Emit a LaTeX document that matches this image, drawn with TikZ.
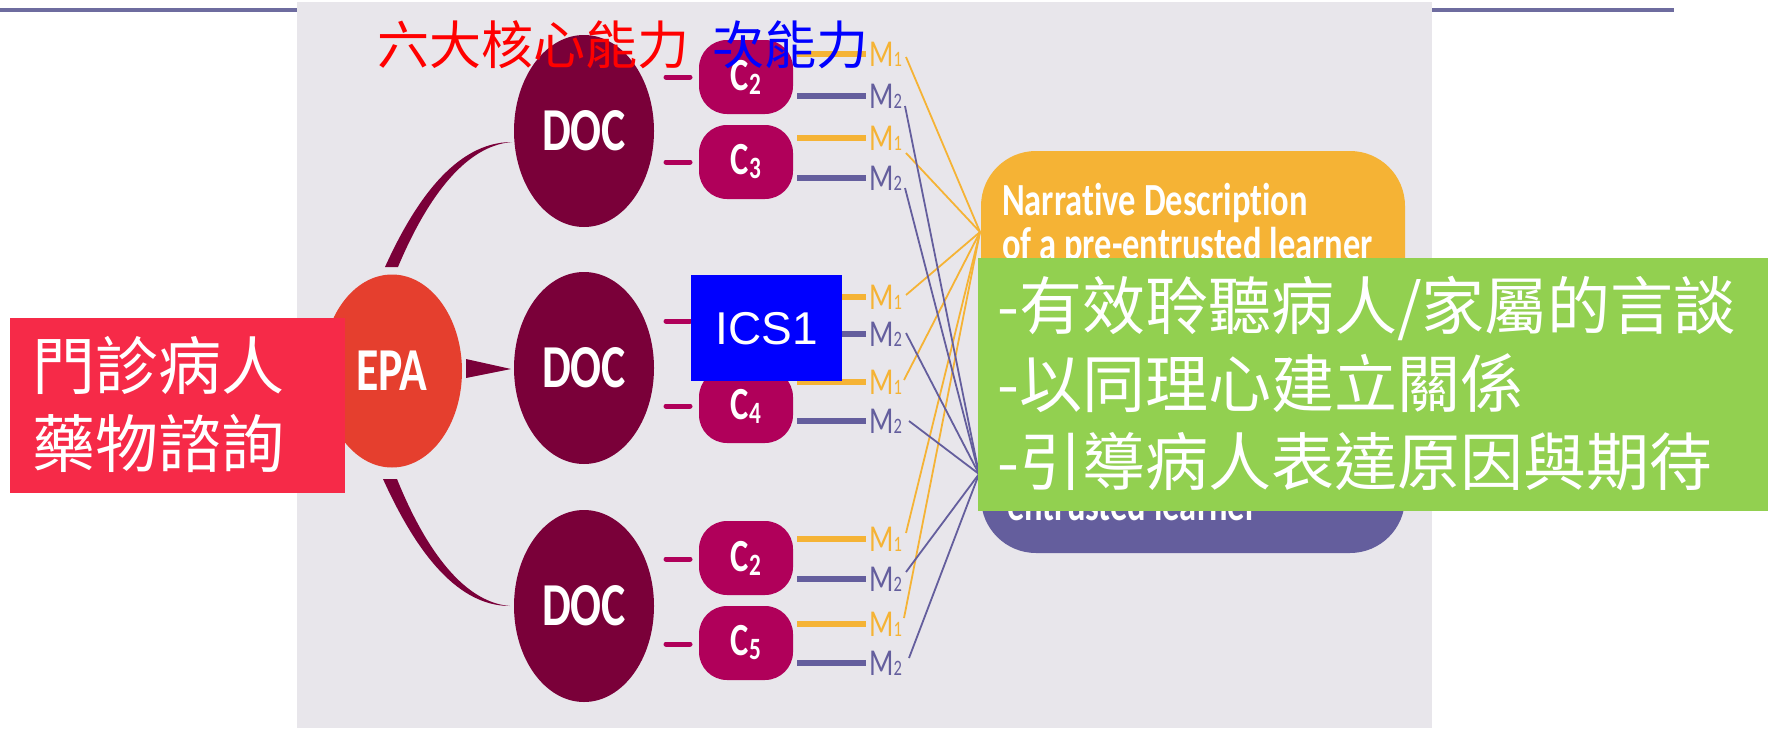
\documentclass[tikz,border=0pt]{standalone}
\usepackage{fontspec}
\usetikzlibrary{shapes.geometric}
\newfontfamily\cjk{Noto Sans CJK TC}
\newfontfamily\cond[FakeStretch=0.75,Ligatures=NoCommon]{Carlito}
\newfontfamily\arialf{Liberation Sans}
\definecolor{bggray}{HTML}{E8E6EB}
\definecolor{topline}{HTML}{6E6C9F}
\definecolor{docred}{HTML}{7A0039}
\definecolor{epared}{HTML}{E53F2E}
\definecolor{cmag}{HTML}{B0005A}
\definecolor{morange}{HTML}{F5B335}
\definecolor{mpurple}{HTML}{645E9D}
\definecolor{boxgreen}{HTML}{92D050}
\definecolor{boxred}{HTML}{F62A48}
\definecolor{boxblue}{HTML}{0000FF}
\begin{document}
\begin{tikzpicture}[x=1pt,y=-1pt,
  docnode/.style={ellipse, fill=docred, minimum width=140pt, minimum height=192pt, inner sep=0pt, text=white, font=\cond\bfseries\fontsize{61}{61}\selectfont},
  epanode/.style={ellipse, fill=epared, minimum width=140pt, minimum height=193pt, inner sep=0pt, text=white, font=\cond\bfseries\fontsize{61}{61}\selectfont},
  cbox/.style={rectangle, rounded corners=28pt, fill=cmag, minimum width=94pt, minimum height=74pt, inner sep=0pt, text=white, font=\cond\bfseries\fontsize{46}{46}\selectfont},
  dashm/.style={draw=cmag, line width=5pt, line cap=round},
  mlineo/.style={draw=morange, line width=6pt},
  mlinep/.style={draw=mpurple, line width=6pt},
  mlabo/.style={anchor=base west, inner sep=0pt, text=morange, font=\cond\fontsize{38}{38}\selectfont},
  mlabp/.style={anchor=base west, inner sep=0pt, text=mpurple, font=\cond\fontsize{38}{38}\selectfont},
  conno/.style={draw=morange, line width=1.8pt},
  connp/.style={draw=mpurple, line width=1.8pt},
  pilltext/.style={anchor=base west, inner sep=0pt, text=white, font=\cond\bfseries\fontsize{46}{46}\selectfont},
  cjktext/.style={inner sep=0pt, font=\cjk\fontsize{63}{78}\selectfont}
]
\useasboundingbox (0,0) rectangle (1768,728);
% top rule and grey picture
\draw[topline, line width=4pt] (0,10) -- (1674,10);
\fill[bggray] (297,2) rectangle (1432,728);

% narrative pills
\node[rectangle, rounded corners=55pt, fill=mpurple, minimum width=424pt, minimum height=203pt, inner sep=0pt] (pillp) at (1193,451.5) {};
\node[rectangle, rounded corners=55pt, fill=morange, minimum width=424pt, minimum height=209pt, inner sep=0pt] (pillo) at (1193,255.5) {};
\node[pilltext] (nd1) at (1002,215) {Narrative Description};
\node[pilltext] (nd2) at (1002,259) {of a pre-entrusted learner};
\node[pilltext] (nd3) at (1007,520) {entrusted learner};
\coordinate (convO) at (980,232);
\coordinate (convP) at (979,474);

% EPA and DOC
\node[epanode] (epa) at (392,371) {EPA};
\node[docnode] (doc1) at (584,131) {DOC};
\node[docnode] (doc2) at (584,368) {DOC};
\node[docnode] (doc3) at (584,606) {DOC};
\fill[docred] (385,267) .. controls (414,203) and (455,142) .. (512,142)
  .. controls (462,146) and (424,205) .. (398,267) -- cycle;
\fill[docred] (383,479) .. controls (412,543) and (453,606) .. (510,606)
  .. controls (460,602) and (422,541) .. (397,479) -- cycle;
\fill[docred] (466,359) -- (511,369) -- (466,378) -- cycle;

% rows: id / dash y / M1 y / M2 y / start1 y / start2 y / start1 x / start2 x
\foreach \i/\dy/\ma/\mb/\sa/\sb/\xa/\xb in {
  1/77/54/96/57/106/906/905,
  2/162/138/178/153/188/906/905,
  3/321/297/334/295/333/906/906,
  4/406/382/421/380/421/904/909,
  5/559/539/579/533/572/906/906,
  6/644/624/663/618/658/904/909}{
  \draw[dashm] (666,\dy) -- (690,\dy);
  \draw[mlineo] (797,\ma) -- (866,\ma);
  \draw[mlinep] (797,\mb) -- (866,\mb);
  \node[mlabo] (ma\i) at (869,\ma+12) {M{\fontsize{22}{22}\selectfont 1}};
  \node[mlabp] (mb\i) at (869,\mb+12) {M{\fontsize{22}{22}\selectfont 2}};
  \coordinate (sa\i) at (\xa,\sa);
  \coordinate (sb\i) at (\xb,\sb);
  \draw[conno] (sa\i) -- (convO);
}
\foreach \i in {1,...,6}{ \draw[connp] (sb\i) -- (convP); }

\node[cbox] (c2a) at (746,77) {C\raisebox{-4pt}{\fontsize{31}{31}\selectfont 2}};
\node[cbox] (c3) at (746,162) {C\raisebox{-4pt}{\fontsize{31}{31}\selectfont 3}};
\node[cbox] (c4) at (746,406) {C\raisebox{-4pt}{\fontsize{31}{31}\selectfont 4}};
\node[cbox] (c2b) at (746,558) {C\raisebox{-4pt}{\fontsize{31}{31}\selectfont 2}};
\node[cbox] (c5) at (746,643) {C\raisebox{-4pt}{\fontsize{31}{31}\selectfont 5}};

% overlays
\node[fill=boxblue, minimum width=151pt, minimum height=106pt, anchor=north west, inner sep=0pt, text=white, font=\arialf\fontsize{46}{46}\selectfont] (ics) at (691,275) {ICS1};
\node[fill=boxred, minimum width=335pt, minimum height=175pt, anchor=north west, inner sep=0pt] (redbox) at (10,318) {};
\node[cjktext, anchor=west, align=left, text=white] (redtxt) at (32,404) {門診病人\\藥物諮詢};
\node[fill=boxgreen, minimum width=790pt, minimum height=253pt, anchor=north west, inner sep=0pt] (greenbox) at (978,258) {};
\node[cjktext, anchor=west, align=left, text=white] (greentxt) at (997,383) {-有效聆聽病人/家屬的言談\\-以同理心建立關係\\-引導病人表達原因與期待};
\node[inner sep=0pt, anchor=west, text=red, font=\cjk\fontsize{52}{52}\selectfont] (title1) at (377,45) {六大核心能力};
\node[inner sep=0pt, anchor=west, text=blue, font=\cjk\fontsize{52}{52}\selectfont] (title2) at (712,45) {次能力};
\end{tikzpicture}
\end{document}
